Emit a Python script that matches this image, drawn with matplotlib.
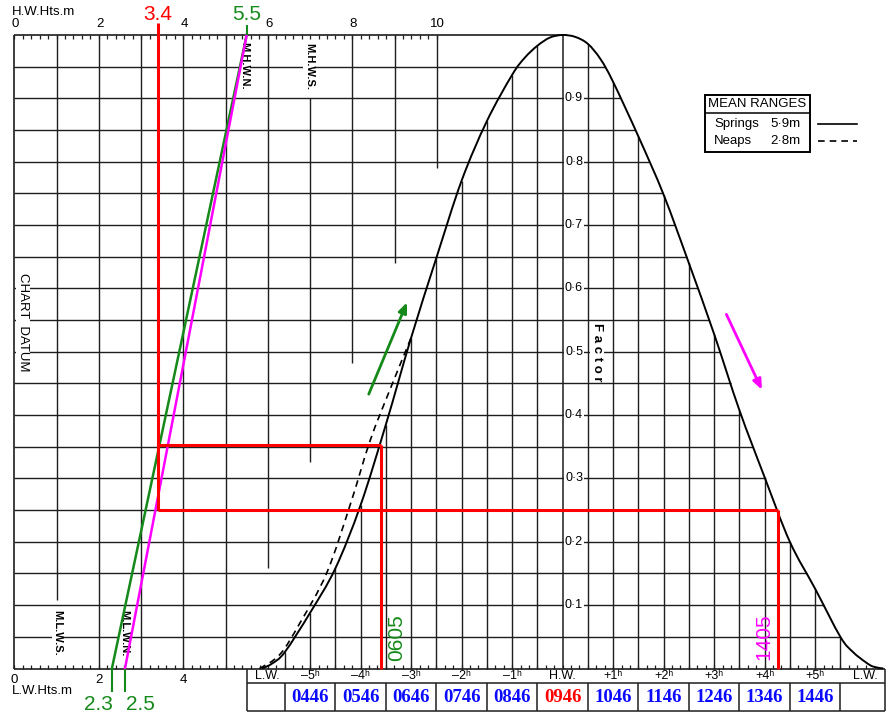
import numpy as np
import matplotlib
matplotlib.use("Agg")
import matplotlib.pyplot as plt
from matplotlib.patches import Rectangle, PathPatch
from matplotlib.path import Path

plt.rcParams["font.family"] = ["Liberation Sans", "DejaVu Sans"]

# ---------- data ----------
# springs curve: hours from HW vs factor
spr_h = [-5.95, -5.75, -5.5, -5.0, -4.5, -4.0, -3.5, -3.0, -2.5, -2.0, -1.5, -1.0, -0.75, -0.5, -0.25, 0.0,
         0.25, 0.5, 0.75, 1.0, 1.5, 2.0, 2.5, 3.0, 3.5, 4.0, 4.5, 5.0, 5.5, 5.75, 6.0, 6.15, 6.35]
spr_f = [0.0, 0.008, 0.026, 0.088, 0.158, 0.258, 0.385, 0.522, 0.648, 0.770, 0.864, 0.937, 0.964, 0.983, 0.996, 1.0,
         0.997, 0.986, 0.962, 0.926, 0.840, 0.748, 0.640, 0.528, 0.408, 0.302, 0.200, 0.126, 0.050, 0.026, 0.010, 0.003, 0.0]
# neaps curve (rising side only differs)
nep_h = [-6.0, -5.6, -5.2, -4.67, -4.2, -3.81, -3.42, -3.0]
nep_f = [0.0, 0.022, 0.072, 0.151, 0.26, 0.36, 0.44, 0.522]

hw_ticks = [0, 2, 4, 6, 8, 10]
lw_ticks = [0, 2, 4]
factor_ticks = [0.1, 0.2, 0.3, 0.4, 0.5, 0.6, 0.7, 0.8, 0.9]
factor_labels = ["0·1", "0·2", "0·3", "0·4", "0·5", "0·6", "0·7", "0·8", "0·9"]
hour_pos = [-5.85, -5, -4, -3, -2, -1, 0, 1, 2, 3, 4, 5, 6.0]
hour_labels = ["L.W.", "–5ʰ", "–4ʰ", "–3ʰ", "–2ʰ", "–1ʰ", "H.W.",
               "+1ʰ", "+2ʰ", "+3ʰ", "+4ʰ", "+5ʰ", "L.W."]
clock_pos = [-5, -4, -3, -2, -1, 0, 1, 2, 3, 4, 5]
clock_times = ["0446", "0546", "0646", "0746", "0846", "0946",
               "1046", "1146", "1246", "1346", "1446"]

# height grid lines (metres) and their vertical extent in factor
hgrid_m = [1, 2, 3, 4, 5, 6, 7, 8, 9, 10]
hgrid_lo = [0.108, 0, 0, 0, 0, 0.159, 0.326, 0.482, 0.64, 0.79]
hgrid_hi = [1, 1, 1, 1, 1, 1, 0.9, 1, 1, 1]

hw_height = 5.5
lw_rise, lw_fall = 2.31, 2.62
lw_rise_lbl, lw_fall_lbl = "2.3", "2.5"
height_now = 3.4
fac_rise, fac_fall = 0.353, 0.25
t_rise, t_fall = -3.6, 4.26

GRID = "#1e1e1e"
GREEN = "#15891a"
MAG = "#ff00ff"
RED = "#ff0000"
BLUE = "#0a0aff"

# ---------- figure & axes (pixel calibration of the two scales) ----------
fig = plt.figure(figsize=(8.88, 7.17), dpi=100)
ax_h = fig.add_axes([0, 0, 1, 1])   # height in metres
ax_t = fig.add_axes([0, 0, 1, 1])   # hours from HW
ylim = ((668.5 - 717) / 633.5, 668.5 / 633.5)
ax_h.set_xlim(-14.3 / 42.25, (888 - 14.3) / 42.25)
ax_t.set_xlim(-562.6 / 50.5, (888 - 562.6) / 50.5)
for a in (ax_h, ax_t):
    a.set_ylim(*ylim)
    a.axis("off")
ax_t.patch.set_alpha(0)


def m2h(m):
    return ax_t.transData.inverted().transform(ax_h.transData.transform((m, 0)))[0]


def smooth(xs, ys):
    # smooth path through the read points (cubic Bezier segments)
    P = np.column_stack([xs, ys])
    n = len(P)
    verts, codes = [P[0]], [Path.MOVETO]
    for i in range(n - 1):
        p0 = P[i - 1] if i > 0 else P[i]
        p1, p2 = P[i], P[i + 1]
        p3 = P[i + 2] if i + 2 < n else P[i + 1]
        verts += [p1 + (p2 - p0) / 6, p2 - (p3 - p1) / 6, p2]
        codes += [Path.CURVE4] * 3
    return Path(verts, codes)


spr_h = np.array(spr_h); spr_f = np.array(spr_f)
ihw = int(np.argmax(spr_f))
fall_h, fall_f = spr_h[ihw:], spr_f[ihw:]
h0 = m2h(0)

# ---------- grid ----------
levels = np.arange(0.05, 0.96, 0.05)
ends = np.interp(levels, fall_f[::-1], fall_h[::-1])
ax_t.hlines(levels, h0, ends, color=GRID, lw=1.0, zorder=1)
ax_t.hlines(1.0, h0, 0, color=GRID, lw=1.2, zorder=1)
ax_t.hlines(0.0, h0, 6.39, color=GRID, lw=1.2, zorder=1)
ax_t.vlines(h0, 0, 1, color=GRID, lw=1.2, zorder=1)
ax_t.vlines([m2h(m) for m in hgrid_m], hgrid_lo, hgrid_hi, color=GRID, lw=1.0, zorder=1)
tl = np.array([t for t in np.arange(-5.5, 5.51, 0.5) if t != 0])
ax_t.vlines(tl, 0, np.interp(tl, spr_h, spr_f), color=GRID, lw=1.0, zorder=1)
ax_t.vlines(0, 0, 1, color=GRID, lw=1.1, zorder=1)

# minor ticks
tk = 4 / 633.5
top_minor = np.arange(0, 10.01, 0.2)
ax_t.vlines([m2h(m) for m in top_minor], 1 - tk, 1, color=GRID, lw=0.9)
bot_minor = np.arange(0, 5.61, 0.2)
ax_t.vlines([m2h(m) for m in bot_minor], 0, tk, color=GRID, lw=0.9)
ax_t.vlines(np.arange(-6, 6.01, 1 / 6), 0, tk, color=GRID, lw=0.9)

# ---------- curves ----------
ax_t.add_patch(PathPatch(smooth(spr_h, spr_f), fill=False, edgecolor="black", lw=1.4, zorder=4))
ax_t.add_patch(PathPatch(smooth(nep_h, nep_f), fill=False, edgecolor="black", lw=1.2,
                         ls=(0, (4, 3)), zorder=4))

# ---------- axis labels ----------
ax_h.text(-0.05, 1.036, "H.W.Hts.m", fontsize=9.5, ha="left", va="center")
for m in hw_ticks:
    ax_h.text(m + 0.02, 1.017, str(m), fontsize=9.5, ha="center", va="center")
for m in lw_ticks:
    ax_h.text(m, -0.018, str(m), fontsize=9.5, ha="center", va="center")
ax_h.text(-0.05, -0.035, "L.W.Hts.m", fontsize=9.5, ha="left", va="center")

wb = dict(facecolor="white", edgecolor="none", pad=0.6)
for f, s in zip(factor_ticks, factor_labels):
    ax_t.text(0.226, f, s, fontsize=9, ha="center", va="center", bbox=wb, zorder=3)
ax_t.text(0.68, 0.50, "F a c t o r", fontsize=9.5, fontweight="bold", rotation=-90,
          ha="center", va="center", bbox=wb, zorder=3)
ax_t.text(m2h(0.21), 0.547, "CHART  DATUM", fontsize=9.5, rotation=-90, ha="center",
          va="center", bbox=wb, zorder=3)
for m, f, s in [(5.44, 0.951, "M.H.W.N."), (6.97, 0.950, "M.H.W.S."),
                (1.01, 0.056, "M.L.W.S."), (2.6, 0.056, "M.L.W.N.")]:
    ax_t.text(m2h(m), f, s, fontsize=8, fontweight="bold", rotation=-90, ha="center",
              va="center", bbox=dict(facecolor="white", edgecolor="none", pad=0.3), zorder=3)

# ---------- table ----------
ax_t.vlines([-6.25, 6.39], -0.0671, 0, color=GRID, lw=1.1)
ax_t.hlines([-0.0229, -0.0671], -6.25, 6.39, color=GRID, lw=1.1)
ax_t.vlines(np.arange(-5.5, 5.51, 1.0), -0.0671, -0.0229, color=GRID, lw=1.1)
for h, s in zip(hour_pos, hour_labels):
    ax_t.text(h, -0.0118, s, fontsize=9, ha="center", va="center")
for h, s in zip(clock_pos, clock_times):
    ax_t.text(h, -0.0455, s, fontsize=13.5, fontweight="bold", family="Liberation Serif",
              color=RED if h == 0 else BLUE, ha="center", va="center")

# ---------- legend box ----------
ax_t.add_patch(Rectangle((2.82, 0.815), 4.90 - 2.82, 0.905 - 0.815, fill=False,
                         edgecolor="black", lw=1.4, zorder=5))
ax_t.hlines(0.877, 2.82, 4.90, color="black", lw=1.1, zorder=5)
ax_t.text(3.86, 0.891, "MEAN RANGES", fontsize=9.5, ha="center", va="center")
ax_t.text(3.0, 0.8595, "Springs", fontsize=9.5, ha="left", va="center")
ax_t.text(4.11, 0.8595, "5·9m", fontsize=9.5, ha="left", va="center")
ax_t.text(3.0, 0.8327, "Neaps", fontsize=9.5, ha="left", va="center")
ax_t.text(4.11, 0.8327, "2·8m", fontsize=9.5, ha="left", va="center")
ax_t.plot([5.06, 5.83], [0.8595, 0.8595], color="black", lw=1.2)
ax_t.plot([5.06, 5.83], [0.8327, 0.8327], color="black", lw=1.2, ls=(0, (4, 3)))

# ---------- worked example ----------
ax_t.plot([m2h(lw_rise), m2h(hw_height)], [0, 1], color=GREEN, lw=1.8, zorder=6)
ax_t.plot([m2h(lw_fall), m2h(hw_height)], [0, 1], color=MAG, lw=1.8, zorder=6)
ax_t.vlines(m2h(hw_height), 1, 1.016, color=GREEN, lw=1.5, zorder=6)
ax_t.vlines([m2h(lw_rise), m2h(lw_fall)], -0.037, 0, color=GREEN, lw=1.5, zorder=6)

hx = m2h(height_now)
ax_t.vlines(hx, fac_fall, 1.019, color=RED, lw=2.2, zorder=7)
ax_t.hlines([fac_rise, fac_fall], hx, [t_rise, t_fall], color=RED, lw=2.2, zorder=7)
ax_t.vlines([t_rise, t_fall], 0, [fac_rise, fac_fall], color=RED, lw=2.2, zorder=7)

ax_t.text(hx, 1.033, "3.4", color=RED, fontsize=15, ha="center", va="center")
ax_t.text(m2h(hw_height), 1.033, "5.5", color=GREEN, fontsize=15, ha="center", va="center")
ax_t.text(m2h(2.0), -0.0576, lw_rise_lbl, color=GREEN, fontsize=15, ha="center", va="center")
ax_t.text(m2h(2.98), -0.0576, lw_fall_lbl, color=GREEN, fontsize=15, ha="center", va="center")
ax_t.text(-3.28, 0.048, "0605", color=GREEN, fontsize=15, rotation=90, ha="center", va="center")
ax_t.text(3.99, 0.051, "1405", color=MAG, fontsize=15, rotation=90, ha="center", va="center")

ax_t.annotate("", xy=(-3.06, 0.582), xytext=(-3.86, 0.429),
              arrowprops=dict(arrowstyle="-|>,head_length=0.6,head_width=0.25", color=GREEN, lw=2))
ax_t.annotate("", xy=(3.97, 0.436), xytext=(3.22, 0.563),
              arrowprops=dict(arrowstyle="-|>,head_length=0.6,head_width=0.25", color=MAG, lw=2))

fig.savefig("out.png", dpi=100)
